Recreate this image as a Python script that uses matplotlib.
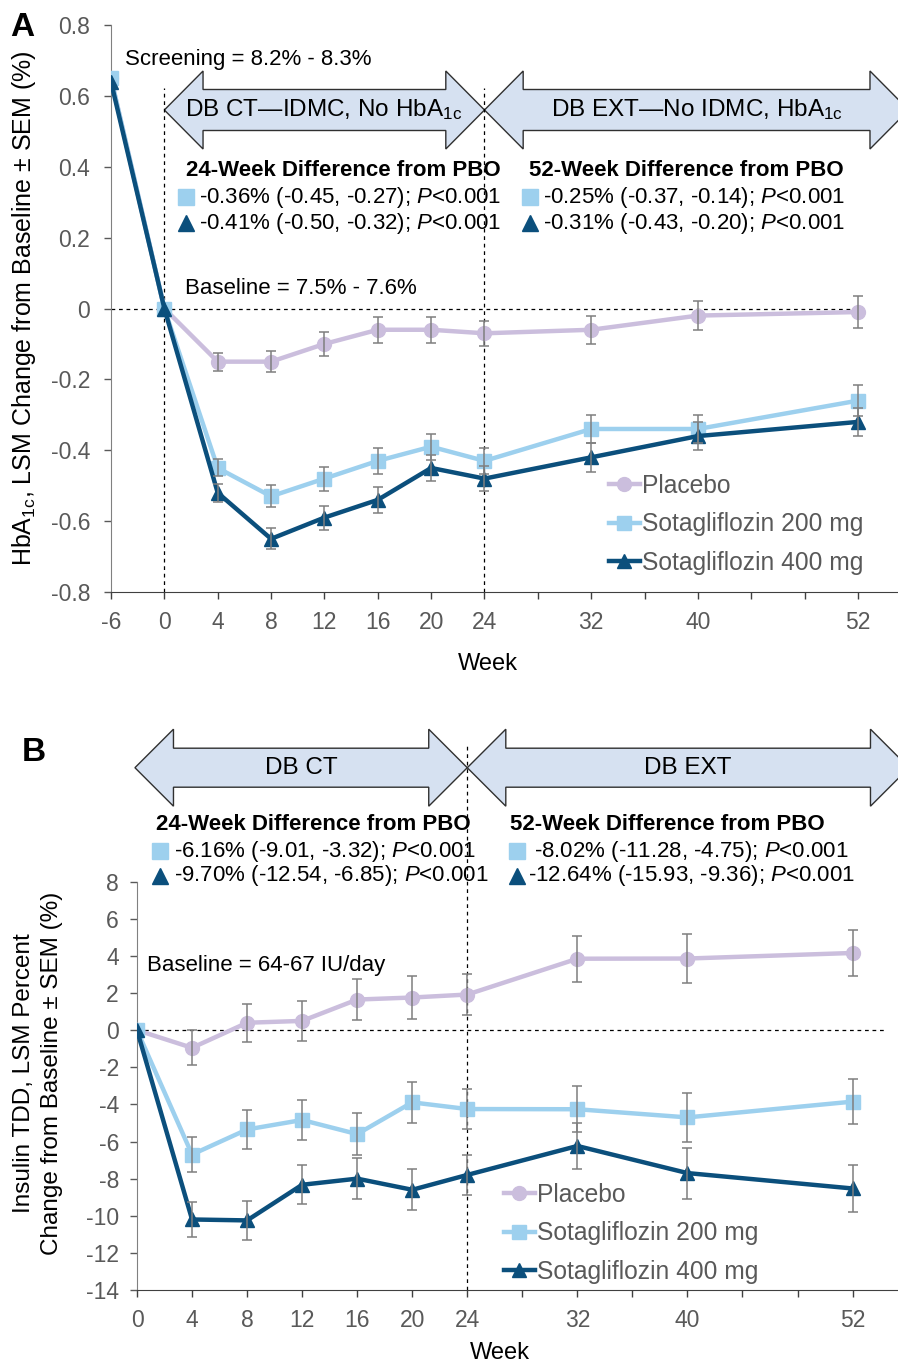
"""
Sotagliflozin: HbA1c (A) e TDD de insulina (B) ao longo de 52 semanas.
"""
import matplotlib
matplotlib.use("Agg")
import matplotlib.pyplot as plt
import matplotlib.transforms as mtransforms
from matplotlib.lines import Line2D
from matplotlib.patches import Polygon

plt.rcParams["font.family"] = ["Liberation Sans", "DejaVu Sans"]
plt.rcParams["mathtext.fontset"] = "custom"
plt.rcParams["mathtext.rm"] = "Liberation Sans"
plt.rcParams["mathtext.it"] = "Liberation Sans:italic"
plt.rcParams["mathtext.bf"] = "Liberation Sans:bold"
plt.rcParams["axes.unicode_minus"] = False

# --- dados painel A (HbA1c) ---
semanas_a = [-6, 0, 4, 8, 12, 16, 20, 24, 32, 40, 52]
placebo_a = [0.65, 0.0, -0.15, -0.15, -0.10, -0.06, -0.06, -0.07, -0.06, -0.02, -0.01]
sota200_a = [0.65, 0.0, -0.45, -0.53, -0.48, -0.43, -0.39, -0.43, -0.34, -0.34, -0.26]
sota400_a = [0.64, 0.0, -0.52, -0.65, -0.59, -0.54, -0.45, -0.48, -0.42, -0.36, -0.32]
# SEM a partir da semana 4
sem_placebo_a = [0.025, 0.03, 0.034, 0.036, 0.037, 0.036, 0.04, 0.042, 0.045]
sem_sota200_a = [0.024, 0.031, 0.034, 0.036, 0.037, 0.037, 0.04, 0.04, 0.044]
sem_sota400_a = [0.025, 0.03, 0.034, 0.037, 0.038, 0.035, 0.04, 0.04, 0.04]

# --- dados painel B (TDD de insulina) ---
semanas_b = [0, 4, 8, 12, 16, 20, 24, 32, 40, 52]
placebo_b = [0.0, -0.95, 0.4, 0.5, 1.65, 1.76, 1.92, 3.85, 3.86, 4.16]
sota200_b = [0.0, -6.7, -5.35, -4.84, -5.6, -3.89, -4.25, -4.26, -4.7, -3.85]
sota400_b = [0.0, -10.2, -10.25, -8.33, -8.0, -8.6, -7.8, -6.24, -7.7, -8.53]
sem_placebo_b = [0.94, 1.02, 1.08, 1.09, 1.14, 1.12, 1.23, 1.34, 1.25]
sem_sota200_b = [0.93, 1.05, 1.08, 1.12, 1.12, 1.08, 1.23, 1.33, 1.23]
sem_sota400_b = [0.94, 1.05, 1.04, 1.12, 1.1, 1.1, 1.23, 1.37, 1.25]

rotulos = ["Placebo", "Sotagliflozin 200 mg", "Sotagliflozin 400 mg"]
cores = ["#cbbedd", "#9dd0ee", "#0b4f7c"]
marcadores = ["o", "s", "^"]
COR_CINZA = "#595959"
COR_SETA = "#d6e1f1"

W, H = 898, 1363
fig = plt.figure(figsize=(W / 100, H / 100), dpi=100)


def fx(px):
    return px / W


def fy(py):
    return 1 - py / H


def texto(x, y, s, **kw):
    kw.setdefault("va", "center")
    kw.setdefault("fontsize", 16)
    fig.text(fx(x), fy(y), s, **kw)


def seta_dupla(ax, x0, x1, yc, hl, hh, bh):
    """Seta dupla em bloco: x em semanas, y em pixels da figura."""
    tr = mtransforms.blended_transform_factory(ax.transData, fig.transFigure)
    yc, hh, bh = fy(yc), hh / H, bh / H
    pts = [(x0, yc), (x0 + hl, yc + hh), (x0 + hl, yc + bh), (x1 - hl, yc + bh),
           (x1 - hl, yc + hh), (x1, yc), (x1 - hl, yc - hh), (x1 - hl, yc - bh),
           (x0 + hl, yc - bh), (x0 + hl, yc - hh)]
    ax.add_patch(Polygon(pts, closed=True, transform=tr, clip_on=False,
                         facecolor=COR_SETA, edgecolor="#303030", lw=1.0, zorder=1))


def estilo_eixos(ax):
    for lado in ["top", "right"]:
        ax.spines[lado].set_visible(False)
    ax.spines["left"].set_color("#808080")
    ax.spines["bottom"].set_color("#404040")
    ax.tick_params(axis="both", direction="out", length=5, width=1,
                   colors=COR_CINZA, labelsize=16.5)
    ax.tick_params(axis="x", colors="#404040", labelcolor=COR_CINZA, pad=9)
    ax.tick_params(axis="y", pad=10)


def marcador(x, y, m, cor, ms=11):
    fig.add_artist(Line2D([fx(x)], [fy(y)], marker=m, color=cor, markersize=ms,
                          linestyle="none", transform=fig.transFigure))


def series(ax, xs, ys_list, sems_list, i0):
    for ys, sems, cor, m, rot in zip(ys_list, sems_list, cores, marcadores, rotulos):
        ax.plot(xs, ys, color=cor, lw=3.2, marker=m, markersize=10, label=rot, zorder=3)
        ax.errorbar(xs[i0:], ys[i0:], yerr=sems, fmt="none", ecolor="#7f7f7f",
                    elinewidth=1.1, capsize=3.5, capthick=1.1, zorder=4)


def legenda(ax, x, y):
    leg = ax.legend(loc="upper left", bbox_to_anchor=(fx(x), fy(y)),
                    bbox_transform=fig.transFigure, frameon=False, fontsize=17.7,
                    handlelength=1.25, handletextpad=0.1, labelspacing=0.58,
                    borderpad=0, borderaxespad=0)
    for t in leg.get_texts():
        t.set_color(COR_CINZA)


# ================= Painel A =================
axA = fig.add_axes([fx(111), fy(592), fx(898 - 111), (592 - 25) / H])
estilo_eixos(axA)
pos_a = [-4 if s < 0 else s for s in semanas_a]
series(axA, pos_a, [placebo_a, sota200_a, sota400_a],
       [sem_placebo_a, sem_sota200_a, sem_sota400_a], 2)
axA.set_xlim(-4, 55)
axA.set_ylim(-0.8, 0.8)
ticks_a = list(range(-4, 53, 4))
axA.set_xticks(ticks_a)
axA.set_xticklabels(["-6" if t < 0 else (str(t) if t in semanas_a else "") for t in ticks_a])
axA.set_yticks([0.8, 0.6, 0.4, 0.2, 0, -0.2, -0.4, -0.6, -0.8])
axA.set_yticklabels(["0.8", "0.6", "0.4", "0.2", "0", "-0.2", "-0.4", "-0.6", "-0.8"])
axA.plot([-4, 52], [0, 0], color="black", lw=0.9, ls=(0, (3, 3)), zorder=2)
for s in [0, 24]:
    axA.axvline(s, ymin=0, ymax=(592 - 88) / 567, color="black", lw=0.9,
                ls=(0, (3, 3)), zorder=2)

seta_dupla(axA, 0, 24, 110, 2.9, 39, 20.5)
seta_dupla(axA, 24, 55.8, 110, 2.9, 39, 20.5)
legenda(axA, 609, 474)

texto(10, 28, "A", fontsize=24, fontweight="bold")
texto(125, 60, "Screening = 8.2% - 8.3%")
texto(324, 110, r"DB CT—IDMC, No HbA$_{\mathrm{1c}}$", ha="center", fontsize=17.5)
texto(697, 110, r"DB EXT—No IDMC, HbA$_{\mathrm{1c}}$", ha="center", fontsize=17.5)
texto(343, 171, "24-Week Difference from PBO", ha="center", fontweight="bold")
marcador(186, 197, "s", cores[1])
texto(199, 197, r"-0.36% (-0.45, -0.27); $\mathit{P}$<0.001")
marcador(186, 223, "^", cores[2])
texto(199, 223, r"-0.41% (-0.50, -0.32); $\mathit{P}$<0.001")
texto(686, 171, "52-Week Difference from PBO", ha="center", fontweight="bold")
marcador(530, 197, "s", cores[1])
texto(543, 197, r"-0.25% (-0.37, -0.14); $\mathit{P}$<0.001")
marcador(530, 223, "^", cores[2])
texto(543, 223, r"-0.31% (-0.43, -0.20); $\mathit{P}$<0.001")
texto(185, 289, "Baseline = 7.5% - 7.6%")
texto(24, 308, r"HbA$_{\mathrm{1c}}$, LSM Change from Baseline ± SEM (%)",
      rotation=90, ha="center", fontsize=18)
texto(488, 664, "Week", ha="center", fontsize=17)

# ================= Painel B =================
axB = fig.add_axes([fx(137), fy(1290), fx(898 - 137), (1290 - 881.7) / H])
estilo_eixos(axB)
series(axB, semanas_b, [placebo_b, sota200_b, sota400_b],
       [sem_placebo_b, sem_sota200_b, sem_sota400_b], 1)
axB.set_xlim(0, 55.3)
axB.set_ylim(-14, 8)
ticks_b = list(range(0, 53, 4))
axB.set_xticks(ticks_b)
axB.set_xticklabels([str(t) if t in semanas_b else "" for t in ticks_b])
axB.set_yticks(list(range(8, -15, -2)))
axB.tick_params(axis="y", pad=8)
axB.plot([0, 54.5], [0, 0], color="black", lw=0.9, ls=(0, (3, 3)), zorder=2)
axB.axvline(24, ymin=0, ymax=(1290 - 743) / 408.3, color="black", lw=0.9,
            ls=(0, (3, 3)), zorder=2, clip_on=False)

seta_dupla(axB, -0.15, 24, 767.7, 2.8, 38.5, 19.5)
seta_dupla(axB, 24, 56.1, 767.7, 2.8, 38.5, 19.5)
legenda(axB, 504, 1183)

texto(22, 753, "B", fontsize=24, fontweight="bold")
texto(301, 768, "DB CT", ha="center", fontsize=17.5)
texto(688, 768, "DB EXT", ha="center", fontsize=17.5)
texto(313, 825, "24-Week Difference from PBO", ha="center", fontweight="bold")
marcador(160, 851, "s", cores[1])
texto(174, 851, r"-6.16% (-9.01, -3.32); $\mathit{P}$<0.001")
marcador(160, 876, "^", cores[2])
texto(174, 876, r"-9.70% (-12.54, -6.85); $\mathit{P}$<0.001")
texto(667, 825, "52-Week Difference from PBO", ha="center", fontweight="bold")
marcador(517, 851, "s", cores[1])
texto(534, 851, r"-8.02% (-11.28, -4.75); $\mathit{P}$<0.001")
marcador(517, 876, "^", cores[2])
texto(528, 876, r"-12.64% (-15.93, -9.36); $\mathit{P}$<0.001")
texto(147, 965, "Baseline = 64-67 IU/day")
texto(38, 1073, "Insulin TDD, LSM Percent\nChange from Baseline ± SEM (%)",
      rotation=90, ha="center", fontsize=17.5, multialignment="center", linespacing=1.3)
texto(500, 1353, "Week", ha="center", fontsize=17)

fig.savefig("out.png", dpi=100)
